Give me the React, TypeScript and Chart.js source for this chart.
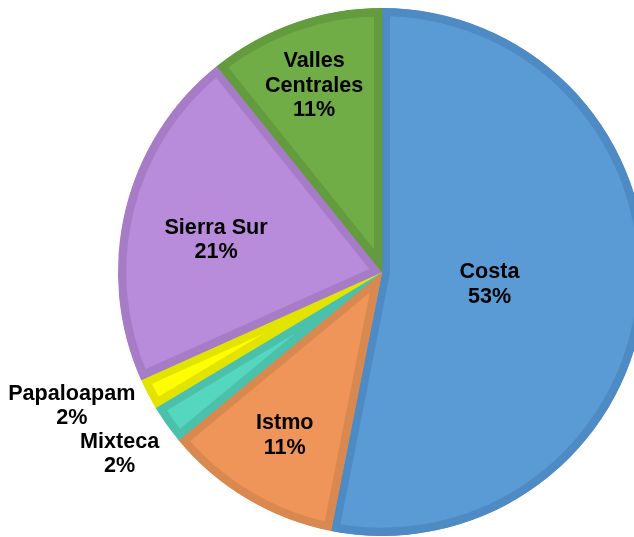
import React, { useEffect, useRef } from "react";
import { Chart, registerables } from "chart.js";

Chart.register(...registerables);

const categories = ["Costa", "Istmo", "Mixteca", "Papaloapam", "Sierra Sur", "Valles Centrales"];
const values = [53.1, 10.9, 2.4, 1.9, 20.95, 10.75];
const fillColors = ["#5B9BD5", "#F0955A", "#55D6BF", "#FFFF00", "#B98BDB", "#70AD47"];
const borderColors = ["#4E8AC3", "#D9884F", "#4BC0AB", "#E3E300", "#A67CC7", "#649B3F"];
const labelLines = [["Costa"], ["Istmo"], ["Mixteca"], ["Papaloapam"], ["Sierra Sur"], ["Valles", "Centrales"]];
// label placement: fraction of the radius along the slice's mid-angle, and angle nudge (deg)
const labelRadius = [0.41, 0.72, 1.21, 1.28, 0.64, 0.75];
const labelAngleShift = [1, 0, 0.5, 4.2, -2.7, -0.7];

const labelPlugin = {
  id: "sliceLabels",
  afterDatasetsDraw(chart: any) {
    const ctx = chart.ctx;
    const meta = chart.getDatasetMeta(0);
    const total = values.reduce((a, b) => a + b, 0);
    ctx.save();
    ctx.font = "bold 21.6px 'Liberation Sans', Arial, sans-serif";
    ctx.fillStyle = "#000000";
    ctx.textAlign = "center";
    ctx.textBaseline = "middle";
    meta.data.forEach((arc: any, i: number) => {
      const { x, y, startAngle, endAngle, outerRadius } = arc.getProps(
        ["x", "y", "startAngle", "endAngle", "outerRadius"],
        true
      );
      const mid = (startAngle + endAngle) / 2 + (labelAngleShift[i] * Math.PI) / 180;
      const r = outerRadius * labelRadius[i];
      const cx = x + Math.cos(mid) * r;
      const cy = y + Math.sin(mid) * r;
      const lines = [...labelLines[i], Math.round((values[i] / total) * 100) + "%"];
      const lh = 24.5;
      lines.forEach((t, k) => ctx.fillText(t, cx, cy + (k - (lines.length - 1) / 2) * lh));
    });
    ctx.restore();
  },
};

export default function App() {
  const ref = useRef<HTMLCanvasElement | null>(null);
  useEffect(() => {
    if (!ref.current) return;
    const chart = new Chart(ref.current, {
      type: "pie",
      data: {
        labels: categories,
        datasets: [
          {
            data: values,
            backgroundColor: fillColors,
            borderColor: borderColors,
            borderWidth: 8,
            borderAlign: "inner",
            borderJoinStyle: "miter",
            radius: 264,
          } as any,
        ],
      },
      options: {
        responsive: false,
        animation: false,
        events: [],
        layout: { padding: 0 },
        plugins: {
          legend: { display: false },
          tooltip: { enabled: false },
        },
      },
      plugins: [labelPlugin],
    });
    return () => chart.destroy();
  }, []);
  return (
    <div
      style={{
        position: "absolute",
        left: 0,
        top: 0,
        width: 634,
        height: 537,
        overflow: "hidden",
        background: "#ffffff",
      }}
    >
      <canvas
        ref={ref}
        width={764}
        height={544}
        style={{ position: "absolute", left: 0, top: 0, width: 764, height: 544 }}
      />
    </div>
  );
}
